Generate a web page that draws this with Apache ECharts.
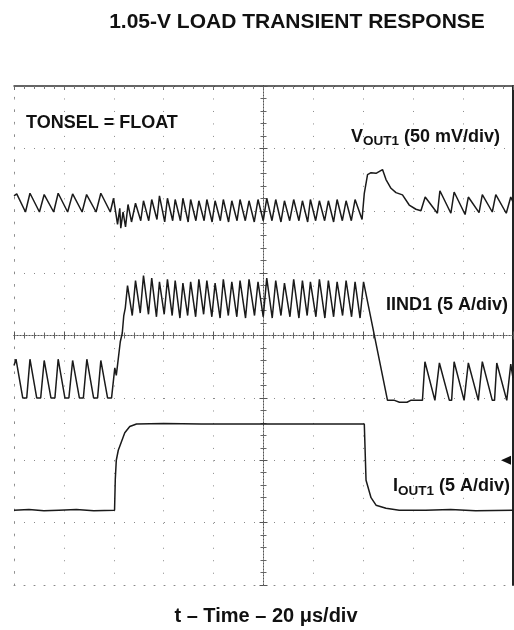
<!DOCTYPE html>
<html>
<head>
<meta charset="utf-8">
<script src="https://cdn.jsdelivr.net/npm/echarts@6/dist/echarts.min.js"></script>
<style>
  html, body { margin: 0; padding: 0; background: #fff; }
  #chart { width: 514px; height: 630px; }
</style>
</head>
<body>
<div id="chart"></div>
<script>
// time in µs (20 µs/div), values read off the scope shot
// VOUT1 deviation in mV (50 mV/div)
const voutData = [
  [0, 12], [1.1, 13.5], [4.6, -1], [5.2, -1.5], [6.4, 14], [10.2, -1], [10.8, -1.5],
  [12.1, 13], [15.9, -1], [16.5, -1.5], [17.7, 14], [21.5, -1], [22.1, -1.5],
  [23.5, 13.5], [27.3, -1], [27.9, -1.5], [29.1, 13], [32.9, -1], [33.5, -1.5],
  [34.8, 14], [38.6, -1], [39.2, -1.5], [39.9, 10],
  [41.5, -11], [42.4, 2], [42.8, -14], [43.7, -1], [44.7, -13], [45.7, 5], [47.1, -9],
  [48.7, 6], [50.8, -8], [51.9, 8], [54.0, -8], [55.2, 9], [57.3, -7], [58.3, 12],
  [60.4, -9], [61.5, 10], [63.6, -8], [64.6, 9], [66.7, -8], [67.7, 10], [69.8, -9],
  [70.8, 9], [72.9, -8], [74.1, 8], [76.2, -8], [77.3, 9], [79.4, -9], [80.6, 8],
  [82.7, -8], [83.9, 9], [86.0, -9], [87.3, 8], [89.4, -8], [90.6, 9], [92.7, -8],
  [94.2, 8], [96.3, -9], [97.8, 9], [99.9, -8], [101.3, 10], [103.4, -8], [104.9, 9],
  [107.0, -9], [108.4, 8], [110.5, -8], [112.1, 9], [114.2, -8], [115.6, 8], [117.7, -9],
  [118.8, 9], [120.9, -8], [122.4, 8], [124.5, -8], [126.0, 8], [128.1, -9], [129.5, 9],
  [131.6, -8], [133.1, 8], [135.2, -8], [136.7, 9], [139.5, -7],
  [140.4, 14], [141.7, 29], [143.1, 30.5], [145.1, 30], [147.7, 33], [149.1, 25],
  [151.1, 18], [153.1, 14.5], [155.7, 12.7], [158.4, 4.6], [161.1, 1.2], [163.1, 0],
  [164.8, 11], [169.7, -2], [170.7, 16], [175.1, -2], [176.4, 15], [180.8, -3],
  [182.1, 11], [186.4, -1.5], [187.7, 13], [191.7, -1], [193.1, 13], [197.3, -2],
  [199.1, 11], [200, 7]
];

// IIND1 inductor current in A (5 A/div)
const iindData = [
  [0, 2.6], [0.8, 3.1], [3.5, 0], [5.1, 0], [6.4, 3.1], [9.1, 0], [10.7, 0],
  [12.1, 3.0], [14.8, 0], [16.4, 0], [17.7, 3.1], [20.4, 0], [22.0, 0],
  [23.5, 3.0], [26.2, 0], [27.8, 0], [29.2, 3.1], [31.9, 0], [33.5, 0],
  [34.8, 3.0], [37.5, 0], [39.1, 0],
  [40.4, 2.4], [41.0, 1.8], [41.6, 2.8], [42.6, 4.5], [43.4, 5.2], [44.0, 6.6], [44.6, 7.2],
  [45.5, 9.0], [47.4, 6.6], [48.7, 9.4], [50.6, 6.8], [51.9, 9.8], [53.9, 6.7],
  [55.2, 9.6], [57.1, 6.5], [58.3, 9.3], [60.2, 6.7], [61.5, 9.5], [63.4, 6.6],
  [64.6, 9.4], [66.5, 6.4], [67.7, 9.2], [69.6, 6.6], [70.8, 9.3], [72.8, 6.5],
  [74.1, 9.5], [76.0, 6.7], [77.3, 9.4], [79.3, 6.5], [80.6, 9.2], [82.6, 6.4],
  [83.9, 9.5], [85.9, 6.6], [87.3, 9.3], [89.3, 6.5], [90.6, 9.4], [92.8, 6.4],
  [94.2, 9.5], [96.4, 6.6], [97.8, 9.3], [99.9, 6.5], [101.3, 9.6], [103.5, 6.4],
  [104.9, 9.4], [107.0, 6.6], [108.4, 9.2], [110.6, 6.5], [112.1, 9.5], [114.2, 6.4],
  [115.6, 9.4], [117.5, 6.6], [118.8, 9.3], [121.0, 6.5], [122.4, 9.5], [124.6, 6.4],
  [126.0, 9.4], [128.1, 6.5], [129.5, 9.3], [131.7, 6.6], [133.1, 9.4], [135.3, 6.5],
  [136.7, 9.3], [138.7, 6.4], [140.1, 9.3],
  [149.7, -0.2], [152.5, -0.2], [154.5, -0.35], [157.5, -0.35], [159.0, -0.2], [163.7, -0.2],
  [164.7, 2.9], [168.7, -0.2], [169.5, -0.2], [170.5, 2.8], [174.5, -0.2], [175.4, -0.2],
  [176.4, 2.9], [180.4, -0.2], [181.2, -0.2], [182.1, 2.8], [186.1, -0.2], [186.9, -0.2],
  [187.7, 2.9], [191.7, -0.2], [192.6, -0.2], [193.5, 2.8], [197.5, -0.2], [198.3, -0.2],
  [199.1, 2.7], [200, 1.6]
];

// IOUT1 load current in A (5 A/div)
const ioutData = [
  [0, 1.0], [6, 1.05], [12, 0.95], [18, 1.0], [25, 1.05], [32, 0.95], [40.3, 1.0],
  [40.6, 3.5], [41.0, 5.0], [41.8, 5.8], [43.1, 6.5], [44.4, 7.2], [46.4, 7.7], [49.1, 7.9],
  [60, 7.95], [75, 7.9], [100, 7.9], [120, 7.9], [140.4, 7.9],
  [141.1, 3.4], [143.1, 2.0], [145.1, 1.4], [149.1, 1.15], [154.4, 1.0],
  [165, 1.0], [175, 1.05], [185, 0.95], [200, 1.0]
];

const FONT = '"Liberation Sans", Arial, sans-serif';
const chart = echarts.init(document.getElementById('chart'));

const dotGrid = '#8a8a8a';
const noLabel = { show: false };

// dotted centre cross with minor ticks, like the scope graticule
function centerAxis(dim, inside) {
  return {
    type: 'value', min: 0, max: dim === 'x' ? 200 : 8,
    interval: dim === 'x' ? 20 : 1,
    position: dim === 'x' ? 'bottom' : 'left',
    offset: -249.5,
    axisLine: { show: true, onZero: false, lineStyle: { color: '#555', width: 1, type: [1, 2] } },
    axisTick: { show: true, inside: inside, length: 4, lineStyle: { color: '#555' } },
    minorTick: { show: true, splitNumber: 5, length: 3, lineStyle: { color: '#666' } },
    axisLabel: noLabel, splitLine: { show: false }
  };
}

const subRich = {
  m: { fontFamily: FONT, fontWeight: 'bold', fontSize: 18, lineHeight: 23, verticalAlign: 'middle', fill: '#111' },
  s: { fontFamily: FONT, fontWeight: 'bold', fontSize: 13.5, lineHeight: 12, verticalAlign: 'bottom', fill: '#111' }
};

const option = {
  animation: false,
  backgroundColor: '#fff',
  grid: { left: 14, top: 86, width: 499, height: 499, containLabel: false, outerBoundsMode: 'none' },
  title: {
    text: '1.05-V LOAD TRANSIENT RESPONSE',
    left: 292, top: 17.5, textAlign: 'center', textVerticalAlign: 'middle',
    textStyle: { fontFamily: FONT, fontWeight: 'bold', fontSize: 21, color: '#111' }
  },
  xAxis: [
    {
      type: 'value', min: 0, max: 200, interval: 20, position: 'top',
      axisLine: { show: true, onZero: false, lineStyle: { color: '#333', width: 1.5 } },
      axisTick: { show: true, inside: true, length: 4, lineStyle: { color: '#666' } },
      minorTick: { show: true, splitNumber: 5, length: 3, lineStyle: { color: '#777' } },
      axisLabel: noLabel,
      splitLine: { show: true, lineStyle: { color: dotGrid, width: 1, type: [1, 11.48] } }
    },
    centerAxis('x', false),
    centerAxis('x', true),
    {
      type: 'value', min: 0, max: 200, position: 'bottom',
      axisLine: { show: true, onZero: false, lineStyle: { color: dotGrid, width: 1, type: [1, 9] } },
      axisTick: { show: false }, axisLabel: noLabel, splitLine: { show: false },
      name: 't \u2013 Time \u2013 20 \u03bcs/div', nameLocation: 'middle', nameGap: 21,
      nameTextStyle: { fontFamily: FONT, fontWeight: 'bold', fontSize: 20, color: '#111', padding: [0, 0, 0, 5] }
    }
  ],
  yAxis: [
    {
      type: 'value', min: 0, max: 8, interval: 1, position: 'left',
      axisLine: { show: true, onZero: false, lineStyle: { color: dotGrid, width: 1, type: [1, 11.48] } },
      axisTick: { show: false }, axisLabel: noLabel,
      splitLine: { show: true, lineStyle: { color: dotGrid, width: 1, type: [1, 9] } }
    },
    centerAxis('y', false),
    centerAxis('y', true),
    {
      type: 'value', min: 0, max: 8, position: 'right',
      axisLine: { show: true, onZero: false, lineStyle: { color: '#222', width: 2 } },
      axisTick: { show: false }, axisLabel: noLabel, splitLine: { show: false }
    },
    { type: 'value', show: false, min: -300, max: 100 },   // VOUT1, mV
    { type: 'value', show: false, min: -15, max: 25 },     // IIND1, A
    { type: 'value', show: false, min: -5, max: 35 }       // IOUT1, A
  ],
  series: [
    {
      name: 'VOUT1', type: 'line', xAxisIndex: 0, yAxisIndex: 4, data: voutData,
      symbol: 'none', silent: true, lineStyle: { color: '#1a1a1a', width: 1.5 }
    },
    {
      name: 'IIND1', type: 'line', xAxisIndex: 0, yAxisIndex: 5, data: iindData,
      symbol: 'none', silent: true, lineStyle: { color: '#1a1a1a', width: 1.5 }
    },
    {
      name: 'IOUT1', type: 'line', xAxisIndex: 0, yAxisIndex: 6, data: ioutData,
      symbol: 'none', silent: true, lineStyle: { color: '#1a1a1a', width: 1.5 },
      markPoint: {
        symbol: 'triangle', symbolSize: [9, 10], symbolRotate: 90, symbolOffset: [-7, 0],
        itemStyle: { color: '#111' }, label: { show: false }, silent: true,
        data: [{ coord: [200, 5] }]
      }
    }
  ],
  graphic: [
    {
      type: 'text', silent: true,
      style: {
        x: 26, y: 123.5, align: 'left', verticalAlign: 'middle',
        text: 'TONSEL = FLOAT', font: 'bold 18px ' + FONT, fill: '#111'
      }
    },
    {
      type: 'text', silent: true,
      style: {
        x: 500, y: 136.7, align: 'right', verticalAlign: 'middle',
        text: '{m|V}{s|OUT1}{m| (50 mV/div)}', rich: subRich
      }
    },
    {
      type: 'text', silent: true,
      style: {
        x: 508, y: 305.5, align: 'right', verticalAlign: 'middle',
        text: 'IIND1 (5 A/div)', font: 'bold 18px ' + FONT, fill: '#111'
      }
    },
    {
      type: 'text', silent: true,
      style: {
        x: 510, y: 486.3, align: 'right', verticalAlign: 'middle',
        text: '{m|I}{s|OUT1}{m| (5 A/div)}', rich: subRich
      }
    }
  ]
};

chart.setOption(option);
</script>
</body>
</html>
